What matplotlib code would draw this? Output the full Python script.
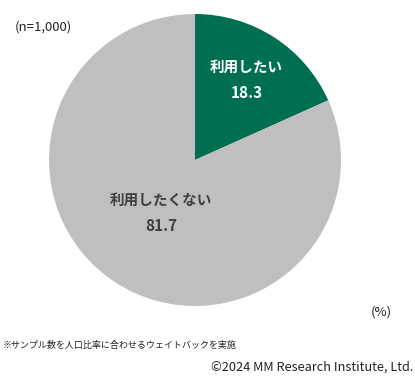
import numpy as np
import matplotlib
matplotlib.use("Agg")
import matplotlib.pyplot as plt

plt.rcParams['font.family'] = ['Noto Sans CJK JP', 'DejaVu Sans']

labels = ["利用したい", "利用したくない"]
values = [18.3, 81.7]
colors = ["#006F51", "#BFBFBF"]
text_colors = ["white", "#404040"]
label_dist = [0.65, 0.43]

fig = plt.figure(figsize=(4.15, 3.79), dpi=100)
ax = fig.add_axes([49 / 415, 73 / 379, 292 / 415, 292 / 379])
wedges, _ = ax.pie(values, colors=colors, startangle=90, counterclock=False,
                   radius=1.0)
ax.set_xlim(-1, 1)
ax.set_ylim(-1, 1)
ax.axis("off")

for w, lab, val, tc, d in zip(wedges, labels, values, text_colors, label_dist):
    mid = np.deg2rad((w.theta1 + w.theta2) / 2)
    x, y = d * np.cos(mid), d * np.sin(mid)
    ax.text(x, y + 0.09, lab, ha="center", va="center",
            color=tc, fontsize=10.5, fontweight="bold")
    ax.text(x, y - 0.09, f"{val:.1f}", ha="center", va="center",
            color=tc, fontsize=11, fontweight="bold")

fig.text(15 / 415, 1 - 27 / 379, "(n=1,000)", fontsize=9.5, va="center",
         color="#222222")
fig.text(392 / 415, 1 - 312 / 379, "(%)", fontsize=9.5, va="center",
         ha="right", color="#222222")
fig.text(3 / 415, 1 - 345 / 379, "※サンプル数を人口比率に合わせるウェイトバックを実施",
         fontsize=6.5, va="center", color="#222222")
fig.text(413 / 415, 1 - 367 / 379, "©2024 MM Research Institute, Ltd.",
         fontsize=9.2, va="center", ha="right", color="#222222")

fig.savefig("out.png", dpi=100)
